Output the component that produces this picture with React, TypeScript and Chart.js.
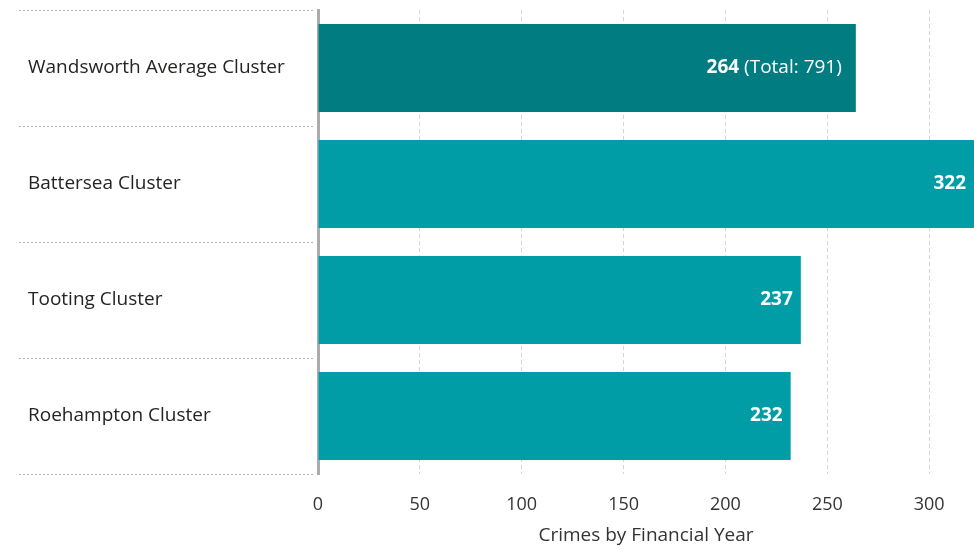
import React, { useEffect, useRef } from "react";
import { Chart, registerables } from "chart.js";

Chart.register(...registerables);

const categories = [
  "Wandsworth Average Cluster",
  "Battersea Cluster",
  "Tooting Cluster",
  "Roehampton Cluster",
];
const crimes = [264, 322, 237, 232];
const averageTotal = 791;
const barColors = ["#017D82", "#009DA7", "#009DA7", "#009DA7"];
const xTicks = [0, 50, 100, 150, 200, 250, 300];
const xTitle = "Crimes by Financial Year";

const FONT = "'Open Sans', 'Noto Sans', sans-serif";

const separatorPlugin = {
  id: "separators",
  beforeDraw(chart: any) {
    const { ctx, chartArea, scales } = chart;
    const y = scales.y;
    const n = categories.length;
    const band = (chartArea.bottom - chartArea.top) / n;
    ctx.save();
    ctx.strokeStyle = "#b3b3b3";
    ctx.lineWidth = 1;
    ctx.setLineDash([2, 2]);
    for (let i = 0; i <= n; i++) {
      const py = Math.round(y.getPixelForValue(0) - band / 2 + i * band) + 0.5;
      ctx.beginPath();
      ctx.moveTo(19, py);
      ctx.lineTo(chartArea.left - 3, py);
      ctx.stroke();
    }
    ctx.restore();
  },
};

const labelPlugin = {
  id: "barLabels",
  afterDatasetsDraw(chart: any) {
    const { ctx } = chart;
    const meta = chart.getDatasetMeta(0);
    ctx.save();
    ctx.fillStyle = "#ffffff";
    ctx.textBaseline = "middle";
    meta.data.forEach((bar: any, i: number) => {
      const right = bar.x - 8;
      const valueText = String(crimes[i]);
      ctx.textAlign = "right";
      if (i === 0) {
        const extra = " (Total: " + averageTotal + ")";
        ctx.font = "400 19px " + FONT;
        const extraW = ctx.measureText(extra).width;
        ctx.fillText(extra, right - 6, bar.y);
        ctx.font = "700 19px " + FONT;
        ctx.fillText(valueText, right - 6 - extraW, bar.y);
      } else {
        ctx.font = "700 19px " + FONT;
        ctx.fillText(valueText, right, bar.y);
      }
    });
    ctx.restore();
  },
};

export default function App() {
  const canvasRef = useRef<HTMLCanvasElement | null>(null);

  useEffect(() => {
    document.body.style.margin = "0";
    const canvas = canvasRef.current;
    if (!canvas) return;
    const chart = new Chart(canvas, {
      type: "bar",
      data: {
        labels: categories,
        datasets: [
          {
            data: crimes,
            backgroundColor: barColors,
            borderWidth: 0,
            categoryPercentage: 0.76,
            barPercentage: 1,
          },
        ],
      },
      options: {
        indexAxis: "y",
        animation: false,
        responsive: false,
        maintainAspectRatio: false,
        layout: { padding: { left: 28, top: 10, right: 0, bottom: 0 } },
        plugins: {
          legend: { display: false },
          tooltip: { enabled: false },
        },
        scales: {
          x: {
            min: 0,
            max: 322,
            afterBuildTicks(scale: any) {
              scale.ticks = xTicks.map((v) => ({ value: v }));
            },
            afterFit(scale: any) {
              scale.height = 76;
            },
            grid: {
              color: "#d6d6d6",
              lineWidth: 1,
              drawTicks: false,
            },
            border: { display: false, dash: [4, 3] },
            ticks: {
              color: "#333333",
              font: { family: FONT, size: 18 },
              padding: 20,
              maxRotation: 0,
            },
            title: {
              display: true,
              text: xTitle,
              color: "#333333",
              font: { family: FONT, size: 19 },
              padding: { top: 0, bottom: 3 },
            },
          },
          y: {
            afterFit(scale: any) {
              scale.width = 290;
              scale.paddingTop = 0;
              scale.paddingBottom = 0;
            },
            grid: { display: false },
            border: { display: true, color: "#ababab", width: 3 },
            ticks: {
              crossAlign: "far",
              color: "#252423",
              font: { family: FONT, size: 19 },
            },
          },
        },
      },
      plugins: [separatorPlugin, labelPlugin],
    });
    return () => chart.destroy();
  }, []);

  return (
    <div style={{ position: "absolute", left: 0, top: 0, width: 974, height: 550 }}>
      <canvas ref={canvasRef} width={974} height={550} style={{ display: "block" }} />
    </div>
  );
}
